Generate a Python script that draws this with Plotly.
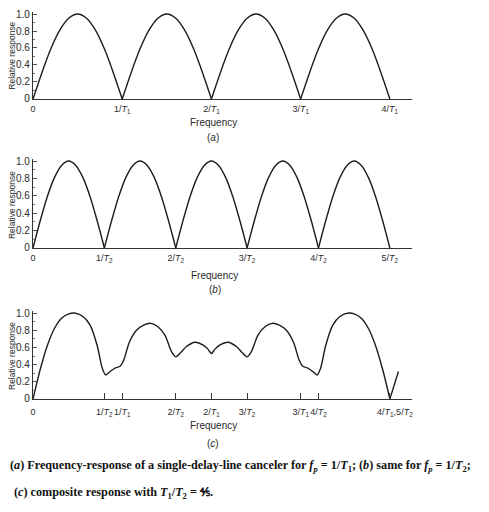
import plotly.graph_objects as go

# frequency axis in units of 1/T2 (T1/T2 = 4/5, so 1/T1 = 1.25)
arch_frac = [0, 0.1, 0.2, 0.3, 0.4, 0.5, 0.6, 0.7, 0.8, 0.9, 1.0]
arch_resp = [0, 0.31, 0.59, 0.81, 0.95, 1.0, 0.95, 0.81, 0.59, 0.31, 0]

zeros_a = [0, 1.25, 2.5, 3.75, 5.0]
zeros_b = [0, 1, 2, 3, 4, 5]

comp_f = [0, 0.1, 0.2, 0.3, 0.4, 0.5, 0.58, 0.7, 0.8, 0.9, 0.97, 1.02, 1.08, 1.15,
          1.22, 1.27, 1.35, 1.45, 1.55, 1.65, 1.75, 1.85, 1.94, 2.0, 2.07, 2.15,
          2.27, 2.38, 2.45, 2.5, 2.55, 2.62, 2.73, 2.85, 2.93, 3.0, 3.06, 3.15,
          3.25, 3.35, 3.45, 3.55, 3.65, 3.73, 3.78, 3.85, 3.92, 3.98, 4.03, 4.1,
          4.2, 4.3, 4.42, 4.5, 4.6, 4.7, 4.8, 4.9, 5.0, None, 5.0, 5.12]
comp_resp = [0, 0.34, 0.62, 0.82, 0.94, 0.99, 1.0, 0.96, 0.86, 0.62, 0.36, 0.28, 0.32, 0.36,
             0.38, 0.45, 0.66, 0.8, 0.86, 0.88, 0.84, 0.74, 0.55, 0.49, 0.54, 0.61,
             0.66, 0.63, 0.58, 0.53, 0.58, 0.63, 0.66, 0.61, 0.54, 0.49, 0.55, 0.74,
             0.84, 0.88, 0.86, 0.8, 0.66, 0.45, 0.38, 0.36, 0.32, 0.28, 0.36, 0.62,
             0.86, 0.96, 1.0, 0.99, 0.94, 0.82, 0.62, 0.34, 0, None, 0, 0.32]

ticks_a = [0, 1.25, 2.5, 3.75, 5.0]
labels_a = ["0", "1/<i>T</i><sub>1</sub>", "2/<i>T</i><sub>1</sub>", "3/<i>T</i><sub>1</sub>", "4/<i>T</i><sub>1</sub>"]
ticks_b = [0, 1, 2, 3, 4, 5]
labels_b = ["0", "1/<i>T</i><sub>2</sub>", "2/<i>T</i><sub>2</sub>", "3/<i>T</i><sub>2</sub>",
            "4/<i>T</i><sub>2</sub>", "5/<i>T</i><sub>2</sub>"]
ticks_c = [0, 1, 1.25, 2, 2.5, 3, 3.75, 4, 5]
labels_c = ["0", "1/<i>T</i><sub>2</sub>", "1/<i>T</i><sub>1</sub>", "2/<i>T</i><sub>2</sub>",
            "2/<i>T</i><sub>1</sub>", "3/<i>T</i><sub>2</sub>", "3/<i>T</i><sub>1</sub>",
            "4/<i>T</i><sub>2</sub>", "    4/<i>T</i><sub>1</sub>,5/<i>T</i><sub>2</sub>"]

y_ticks = [0, 0.2, 0.4, 0.6, 0.8, 1.0]
y_labels = ["0", "0.2", "0.4", "0.6", "0.8", "1.0"]


def arches(zeros):
    xs, ys = [], []
    for z0, z1 in zip(zeros[:-1], zeros[1:]):
        xs += [z0 + t * (z1 - z0) for t in arch_frac] + [None]
        ys += arch_resp + [None]
    return xs, ys


line = dict(color="#1c1c1c", width=1.4, shape="spline", smoothing=0.8)
xa, ya = arches(zeros_a)
xb, yb = arches(zeros_b)

fig = go.Figure()
fig.add_trace(go.Scatter(x=xa, y=ya, mode="lines", line=line, xaxis="x", yaxis="y"))
fig.add_trace(go.Scatter(x=xb, y=yb, mode="lines", line=line, xaxis="x2", yaxis="y2"))
fig.add_trace(go.Scatter(x=comp_f, y=comp_resp, mode="lines", line=line, xaxis="x3", yaxis="y3"))

sans = "Liberation Sans, Arial, sans-serif"
tfont = dict(family=sans, size=9, color="#2a2a2a")


def xax(tv, tt, anchor, ticks, standoff):
    return dict(range=[0, 5.31], anchor=anchor, tickvals=tv, ticktext=tt, showgrid=False,
                zeroline=False, showline=True, linecolor="#333", linewidth=1.2,
                ticks=ticks, ticklen=6, tickcolor="#333", tickfont=tfont,
                ticklabelstandoff=standoff, tickangle=0, automargin=False)


def yax(dom, anchor):
    return dict(domain=dom, range=[0, 1.02], anchor=anchor, tickvals=y_ticks, ticktext=y_labels,
                showgrid=False, zeroline=False, showline=True, linecolor="#333", linewidth=1.2,
                ticks="inside", ticklen=4, tickcolor="#555", ticklabelstandoff=0,
                minor=dict(dtick=0.1, ticks="inside", ticklen=2, tickcolor="#777"),
                tickfont=dict(family=sans, size=10, color="#2a2a2a"), automargin=False)


# page body adds an 8px offset, so the figure is sized to fit inside the window
fig.update_layout(
    width=481, height=496,
    margin=dict(l=25, r=77, t=0, b=105),
    paper_bgcolor="white", plot_bgcolor="white",
    showlegend=False,
    xaxis=xax(ticks_a, labels_a, "y", "", 1),
    yaxis=yax([0.7673, 0.9890], "x"),
    xaxis2=xax(ticks_b, labels_b, "y2", "", 1),
    yaxis2=yax([0.3862, 0.6130], "x2"),
    xaxis3=xax(ticks_c, labels_c, "y3", "inside", 4),
    yaxis3=yax([0, 0.2243], "x3"),
)

small = dict(family=sans, size=10, color="#2a2a2a")
notes = [
    (0.475, 0.708, "Frequency"), (0.475, 0.668, "(<i>a</i>)"),
    (0.48, 0.317, "Frequency"), (0.48, 0.279, "(<i>b</i>)"),
    (0.475, -0.069, "Frequency"), (0.475, -0.115, "(<i>c</i>)"),
]
for x, y, t in notes:
    fig.add_annotation(x=x, y=y, xref="paper", yref="paper", text=t, showarrow=False, font=small,
                       xanchor="center", yanchor="middle")

for y in [0.878, 0.496, 0.110]:
    fig.add_annotation(x=-0.0554, y=y, xref="paper", yref="paper", text="Relative response",
                       textangle=-90, showarrow=False, xanchor="center", yanchor="middle",
                       font=dict(family=sans, size=8.5, color="#2a2a2a"))

cap = dict(family="Liberation Serif, Times New Roman, serif", size=12.2, color="#111")
fig.add_annotation(x=-0.0655, y=-0.171, xref="paper", yref="paper", xanchor="left", yanchor="middle",
                   showarrow=False, font=cap,
                   text="<b>(<i>a</i>) Frequency-response of a single-delay-line canceler for <i>f<sub>p</sub></i> = 1/<i>T</i><sub>1</sub>; (<i>b</i>) same for <i>f<sub>p</sub></i> = 1/<i>T</i><sub>2</sub>;</b>")
fig.add_annotation(x=-0.055, y=-0.240, xref="paper", yref="paper", xanchor="left", yanchor="middle",
                   showarrow=False, font=cap,
                   text="<b>(<i>c</i>) composite response with <i>T</i><sub>1</sub>/<i>T</i><sub>2</sub> = ⅘.</b>")

fig.write_html("out.html")
